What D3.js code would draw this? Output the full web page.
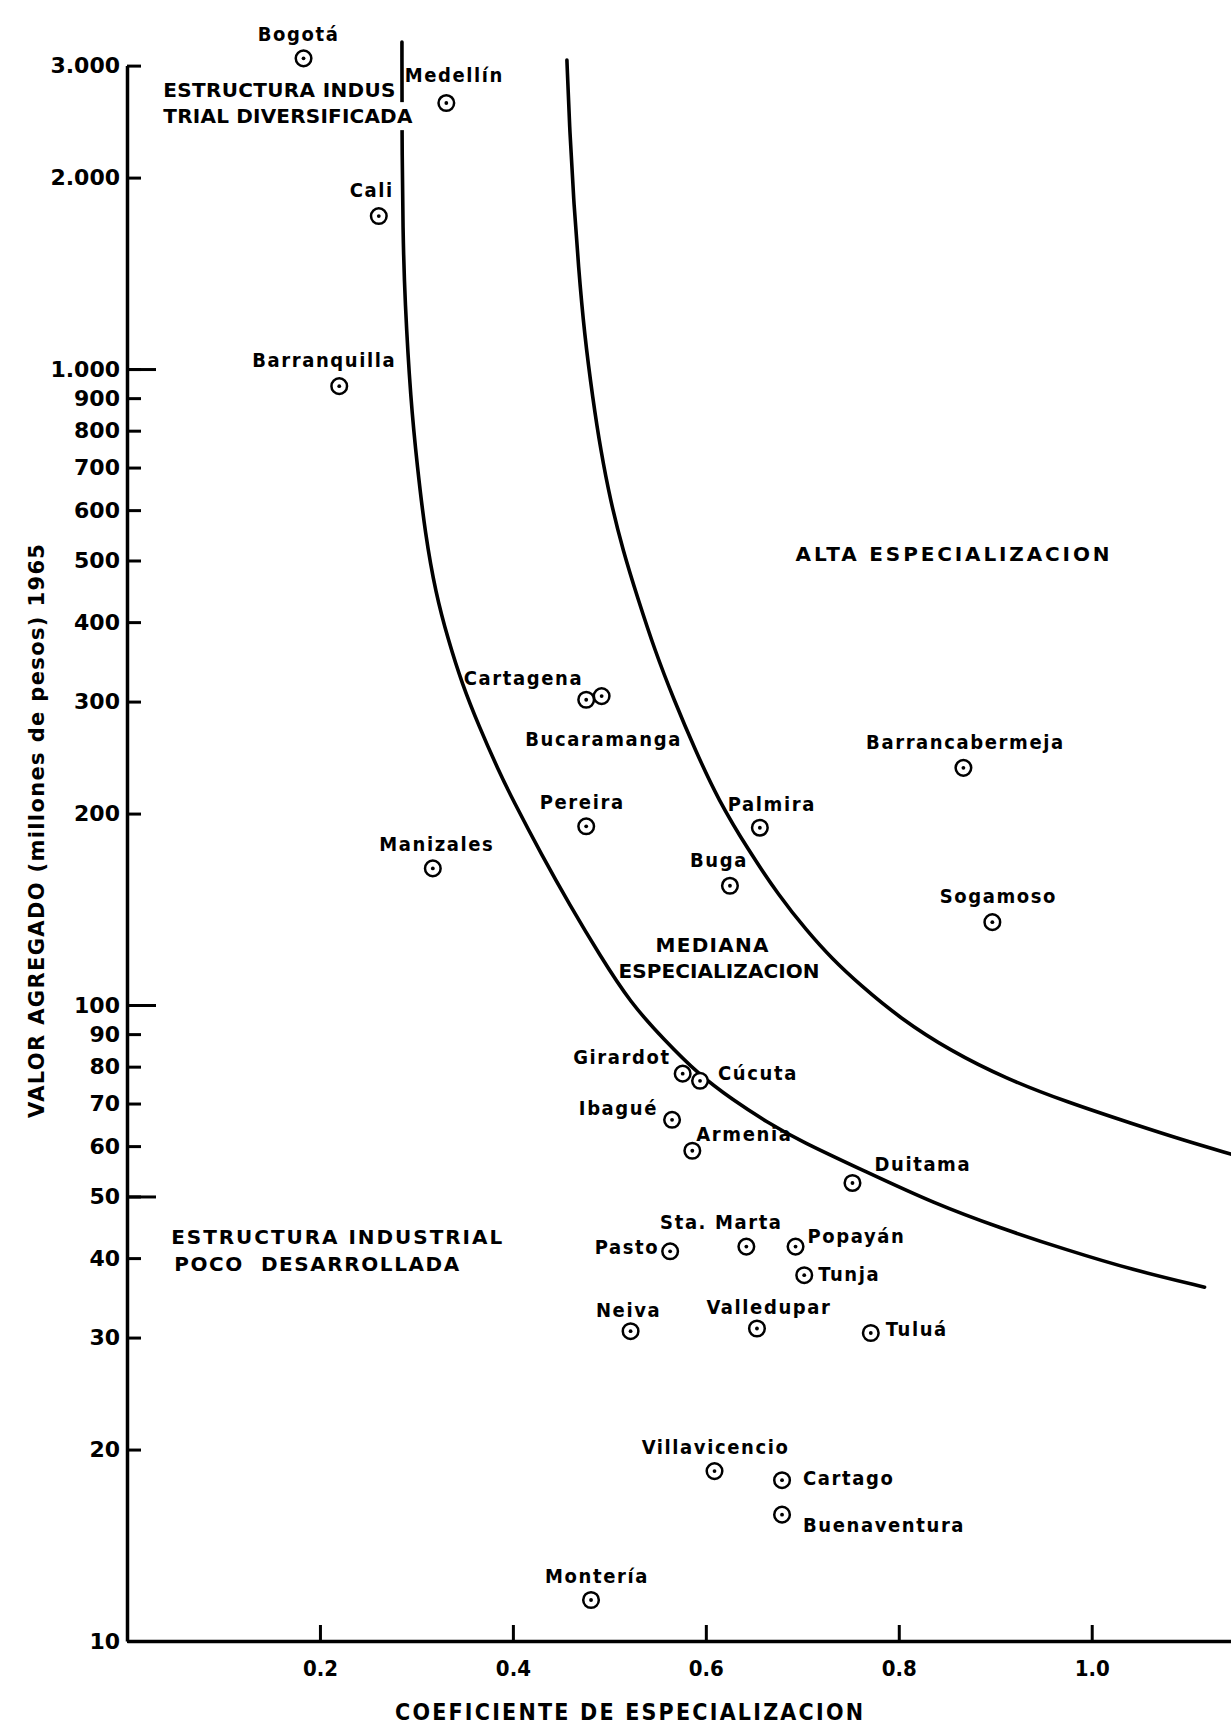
<!DOCTYPE html>
<html>
<head>
<meta charset="utf-8">
<script src="https://cdn.jsdelivr.net/npm/d3@7"></script>
<style>
  body { margin: 0; background: #fff; }
  svg { display: block; }
  text { fill: #000; font-weight: bold; }
</style>
</head>
<body>
<svg id="chart"></svg>
<script>
// ciudades: coeficiente de especializacion vs valor agregado 1965 (millones de pesos)
const cities = ["Bogotá", "Medellín", "Cali", "Barranquilla", "Cartagena", "Bucaramanga",
    "Pereira", "Manizales", "Palmira", "Buga", "Barrancabermeja", "Sogamoso",
    "Girardot", "Cúcuta", "Ibagué", "Armenia", "Duitama", "Pasto", "Sta. Marta",
    "Popayán", "Tunja", "Neiva", "Valledupar", "Tuluá", "Villavicencio", "Cartago",
    "Buenaventura", "Montería"];
const coef = [0.183, 0.331, 0.261, 0.220, 0.476, 0.492,
    0.476, 0.317, 0.656, 0.625, 0.867, 0.897,
    0.576, 0.594, 0.565, 0.586, 0.752, 0.563, 0.642,
    0.693, 0.702, 0.522, 0.653, 0.771, 0.609, 0.679,
    0.679, 0.481];
const valor = [3080, 2620, 1740, 940, 302, 306,
    191, 164, 190, 154, 236, 135,
    78, 76, 66, 59, 52.5, 41, 41.7,
    41.7, 37.6, 30.7, 31, 30.5, 18.5, 17.9,
    15.8, 11.6];

// curvas que separan las zonas
const innerCoef = [0.285, 0.285, 0.286, 0.288, 0.294, 0.301, 0.309, 0.320, 0.333, 0.347,
    0.365, 0.385, 0.400, 0.430, 0.459, 0.490, 0.522, 0.557, 0.592, 0.628, 0.663, 0.698,
    0.767, 0.836, 0.905, 0.974, 1.043, 1.117];
const innerValor = [3268, 2350, 1636, 1284, 894, 701, 552, 444, 375, 321,
    274, 234, 210, 172, 143.6, 119.8, 100.7, 88.1, 77.9, 70.9, 65.5, 61.1,
    54.6, 48.8, 44.6, 41.2, 38.3, 36.0];
const outerCoef = [0.456, 0.459, 0.463, 0.468, 0.474, 0.483, 0.491, 0.501, 0.514, 0.530,
    0.547, 0.567, 0.589, 0.613, 0.644, 0.676, 0.704, 0.731, 0.760, 0.801,
    0.853, 0.912, 0.974, 1.043, 1.095, 1.144];
const outerValor = [3060, 2350, 1844, 1447, 1139, 894, 746, 622, 519, 433.5,
    361.6, 301.7, 251.8, 210, 175.3, 148.4, 131.2, 118.1, 107.5, 95.4,
    84.8, 76.5, 70.4, 65.0, 61.3, 58.3];

const yTicks = [10, 20, 30, 40, 50, 60, 70, 80, 90, 100, 200, 300, 400, 500, 600, 700, 800, 900, 1000, 2000, 3000];
const yLong = [50, 100, 1000];
const xTicks = [0.2, 0.4, 0.6, 0.8, 1.0];

// donde va cada nombre respecto a su punto: [anchor, dx, dy]
const labelPos = {
    "Bogotá": ["middle", -5, -24], "Medellín": ["middle", 8, -28], "Cali": ["middle", -7, -26],
    "Barranquilla": ["middle", -15, -26], "Cartagena": ["end", -3, -22], "Bucaramanga": ["middle", 2, 43],
    "Pereira": ["middle", -4, -24], "Manizales": ["middle", 4, -24], "Palmira": ["middle", 12, -24],
    "Buga": ["middle", -11, -26], "Barrancabermeja": ["middle", 2, -26], "Sogamoso": ["middle", 6, -26],
    "Girardot": ["end", -12, -17], "Cúcuta": ["start", 18, -8], "Ibagué": ["end", -14, -12],
    "Armenia": ["start", 4, -17], "Duitama": ["start", 22, -19], "Pasto": ["end", -11, -4],
    "Sta. Marta": ["middle", -25, -25], "Popayán": ["start", 12, -11], "Tunja": ["start", 14, -1],
    "Neiva": ["middle", -2, -21], "Valledupar": ["middle", 12, -22], "Tuluá": ["start", 15, -4],
    "Villavicencio": ["middle", 1, -24], "Cartago": ["start", 21, -2], "Buenaventura": ["start", 21, 10],
    "Montería": ["middle", 6, -24]
};

const width = 1231, height = 1733;
const svg = d3.select("#chart").attr("width", width).attr("height", height);

const x = d3.scaleLinear().domain([0, 1.145]).range([127, 1231.6]);
const y = d3.scaleLog().domain([10, 3000]).range([1641, 65.6]);

const cityFont = "'DejaVu Sans Condensed', 'DejaVu Sans', sans-serif";
const boldFont = "'DejaVu Sans', sans-serif";

// ejes
const miles = d3.formatLocale({decimal: ",", thousands: ".", grouping: [3], currency: ["$", ""]}).format(",d");

svg.append("g")
    .attr("transform", `translate(${x(0)},0)`)
    .call(d3.axisLeft(y).tickValues(yLong).tickSize(-29).tickFormat(""))
    .call(g => g.select(".domain").remove())
    .call(g => g.selectAll("line").attr("stroke", "#000").attr("stroke-width", 3));

svg.append("g")
    .attr("transform", `translate(${x(0)},0)`)
    .call(d3.axisLeft(y).tickValues(yTicks).tickSize(-14).tickSizeOuter(0).tickPadding(7).tickFormat(miles))
    .call(g => g.select(".domain").attr("stroke", "#000").attr("stroke-width", 3.5))
    .call(g => g.selectAll("line").attr("stroke", "#000").attr("stroke-width", 3))
    .call(g => g.selectAll("text").attr("font-family", boldFont).attr("font-size", 22).attr("font-weight", "bold"));

svg.append("g")
    .attr("transform", `translate(0,${y(10)})`)
    .call(d3.axisBottom(x).tickValues(xTicks).tickSize(-16).tickSizeOuter(0).tickPadding(19).tickFormat(d3.format(".1f")))
    .call(g => g.select(".domain").attr("stroke", "#000").attr("stroke-width", 3.5))
    .call(g => g.selectAll("line").attr("stroke", "#000").attr("stroke-width", 3))
    .call(g => g.selectAll("text").attr("font-family", cityFont).attr("font-size", 22).attr("font-weight", "bold"));

svg.append("text")
    .attr("x", 629).attr("y", 1712)
    .attr("text-anchor", "middle").attr("dominant-baseline", "central")
    .attr("font-family", cityFont).attr("font-size", 23)
    .attr("textLength", 468).attr("lengthAdjust", "spacing")
    .text("COEFICIENTE DE ESPECIALIZACION");

svg.append("text")
    .attr("transform", "translate(37,831) rotate(-90)")
    .attr("text-anchor", "middle").attr("dominant-baseline", "central")
    .attr("font-family", boldFont).attr("font-size", 21)
    .attr("textLength", 574).attr("lengthAdjust", "spacing")
    .text("VALOR AGREGADO (millones de pesos) 1965");

// curvas
const line = d3.line()
    .x(d => x(d[0]))
    .y(d => y(d[1]))
    .curve(d3.curveBasis);

svg.append("path")
    .datum(innerCoef.map((c, i) => [c, innerValor[i]]))
    .attr("d", line)
    .attr("fill", "none").attr("stroke", "#000").attr("stroke-width", 3.6).attr("stroke-linecap", "round");

svg.append("path")
    .datum(outerCoef.map((c, i) => [c, outerValor[i]]))
    .attr("d", line)
    .attr("fill", "none").attr("stroke", "#000").attr("stroke-width", 3.6).attr("stroke-linecap", "round");

// nombres de zonas
const zones = [
    {lines: ["ESTRUCTURA INDUS", "TRIAL DIVERSIFICADA"], c: 0.0377, v: 2750, anchor: "start", lens: [232, 249], shift: [0, 0], mask: [false, true]},
    {lines: ["ALTA ESPECIALIZACION"], c: 0.693, v: 512, anchor: "start", lens: [314], shift: [0], mask: [false]},
    {lines: ["MEDIANA", "ESPECIALIZACION"], c: 0.6106, v: 124.3, anchor: "middle", lens: [113, 201], shift: [-4, 3], mask: [false, false]},
    {lines: ["ESTRUCTURA INDUSTRIAL", "POCO  DESARROLLADA"], c: 0.0458, v: 43.1, anchor: "start", lens: [331, 285], shift: [0, 3], mask: [false, false]}
];

zones.forEach(z => {
    z.lines.forEach((t, i) => {
        const tx = x(z.c) + z.shift[i];
        const ty = y(z.v) + i * 26.5;
        const el = svg.append("text")
            .attr("x", tx).attr("y", ty)
            .attr("text-anchor", z.anchor).attr("dominant-baseline", "central")
            .attr("font-family", boldFont).attr("font-size", 20)
            .attr("textLength", z.lens[i]).attr("lengthAdjust", "spacing")
            .style("white-space", "pre")
            .text(t);
        if (z.mask[i]) {
            const b = el.node().getBBox();
            svg.insert("rect", () => el.node())
                .attr("x", b.x - 2).attr("y", b.y - 2)
                .attr("width", b.width + 6).attr("height", b.height + 4)
                .attr("fill", "#fff");
        }
    });
});

// puntos
const points = cities.map((c, i) => ({name: c, coef: coef[i], valor: valor[i]}));

const pt = svg.append("g").selectAll("g")
    .data(points)
    .join("g")
    .attr("transform", d => `translate(${x(d.coef)},${y(d.valor)})`);

pt.append("circle")
    .attr("r", 7.8)
    .attr("fill", "#fff")
    .attr("stroke", "#000")
    .attr("stroke-width", 2.5);

pt.append("circle")
    .attr("r", 1.9)
    .attr("fill", "#000");

pt.append("text")
    .attr("x", d => labelPos[d.name][1])
    .attr("y", d => labelPos[d.name][2])
    .attr("text-anchor", d => labelPos[d.name][0])
    .attr("dominant-baseline", "central")
    .attr("font-family", cityFont)
    .attr("font-size", 20)
    .attr("letter-spacing", 1.6)
    .text(d => d.name);
</script>
</body>
</html>
